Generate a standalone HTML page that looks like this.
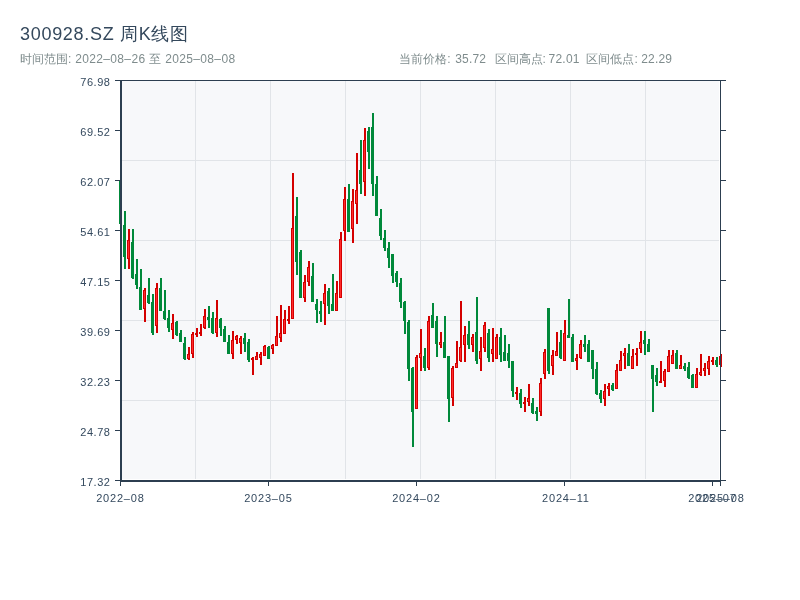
<!DOCTYPE html>
<html><head><meta charset="utf-8"><style>
html,body{margin:0;padding:0;background:#fff;}
body{width:800px;height:600px;overflow:hidden;position:relative;font-family:"Liberation Sans",sans-serif;}
.t{position:absolute;left:20px;top:22px;font-size:19px;color:#2c3e50;white-space:nowrap;line-height:1;}
.s{position:absolute;top:51px;font-size:12px;color:#7f8c8d;white-space:nowrap;line-height:1;}
svg{position:absolute;left:0;top:0;will-change:transform;}
</style></head><body>
<svg width="800" height="600" viewBox="0 0 800 600" shape-rendering="crispEdges">
<rect x="122" y="81" width="597" height="398" fill="#f7f8fa"/>
<rect x="195" y="81" width="1" height="398" fill="#e1e4e8"/><rect x="270" y="81" width="1" height="398" fill="#e1e4e8"/><rect x="345" y="81" width="1" height="398" fill="#e1e4e8"/><rect x="420" y="81" width="1" height="398" fill="#e1e4e8"/><rect x="495" y="81" width="1" height="398" fill="#e1e4e8"/><rect x="570" y="81" width="1" height="398" fill="#e1e4e8"/><rect x="645" y="81" width="1" height="398" fill="#e1e4e8"/><rect x="122" y="160" width="597" height="1" fill="#e1e4e8"/><rect x="122" y="240" width="597" height="1" fill="#e1e4e8"/><rect x="122" y="320" width="597" height="1" fill="#e1e4e8"/><rect x="122" y="400" width="597" height="1" fill="#e1e4e8"/><rect x="120" y="181" width="2" height="44" fill="#00893a"/><rect x="124" y="211" width="2" height="58" fill="#00893a"/><rect x="128" y="229" width="2" height="40" fill="#d40000"/><rect x="132" y="229" width="2" height="50" fill="#00893a"/><rect x="136" y="259" width="2" height="30" fill="#00893a"/><rect x="140" y="269" width="2" height="41" fill="#00893a"/><rect x="144" y="288" width="2" height="34" fill="#d40000"/><rect x="148" y="278" width="2" height="26" fill="#00893a"/><rect x="152" y="294" width="2" height="41" fill="#00893a"/><rect x="156" y="283" width="2" height="50" fill="#d40000"/><rect x="160" y="278" width="2" height="33" fill="#00893a"/><rect x="164" y="290" width="2" height="30" fill="#00893a"/><rect x="168" y="310" width="2" height="22" fill="#00893a"/><rect x="172" y="314" width="2" height="25" fill="#d40000"/><rect x="176" y="321" width="2" height="15" fill="#00893a"/><rect x="180" y="330" width="2" height="12" fill="#00893a"/><rect x="184" y="337" width="2" height="23" fill="#00893a"/><rect x="188" y="347" width="2" height="13" fill="#d40000"/><rect x="192" y="332" width="2" height="26" fill="#d40000"/><rect x="196" y="328" width="2" height="9" fill="#d40000"/><rect x="200" y="324" width="2" height="12" fill="#d40000"/><rect x="204" y="309" width="2" height="20" fill="#d40000"/><rect x="208" y="306" width="2" height="22" fill="#00893a"/><rect x="212" y="312" width="2" height="22" fill="#00893a"/><rect x="216" y="300" width="2" height="37" fill="#d40000"/><rect x="220" y="318" width="2" height="18" fill="#00893a"/><rect x="224" y="326" width="2" height="16" fill="#00893a"/><rect x="228" y="335" width="2" height="19" fill="#00893a"/><rect x="232" y="331" width="2" height="28" fill="#d40000"/><rect x="236" y="335" width="2" height="9" fill="#d40000"/><rect x="240" y="336" width="2" height="18" fill="#d40000"/><rect x="244" y="333" width="2" height="19" fill="#00893a"/><rect x="248" y="339" width="2" height="23" fill="#00893a"/><rect x="252" y="357" width="2" height="18" fill="#d40000"/><rect x="256" y="352" width="2" height="8" fill="#d40000"/><rect x="260" y="352" width="2" height="13" fill="#d40000"/><rect x="264" y="345" width="2" height="11" fill="#d40000"/><rect x="268" y="346" width="2" height="13" fill="#00893a"/><rect x="272" y="344" width="2" height="10" fill="#d40000"/><rect x="276" y="316" width="2" height="30" fill="#d40000"/><rect x="280" y="305" width="2" height="37" fill="#d40000"/><rect x="284" y="310" width="2" height="24" fill="#d40000"/><rect x="288" y="306" width="2" height="18" fill="#d40000"/><rect x="292" y="173" width="2" height="146" fill="#d40000"/><rect x="296" y="197" width="2" height="78" fill="#00893a"/><rect x="300" y="250" width="2" height="48" fill="#00893a"/><rect x="304" y="275" width="2" height="27" fill="#d40000"/><rect x="308" y="261" width="2" height="25" fill="#d40000"/><rect x="312" y="263" width="2" height="39" fill="#00893a"/><rect x="316" y="299" width="2" height="24" fill="#00893a"/><rect x="320" y="301" width="2" height="21" fill="#00893a"/><rect x="324" y="284" width="2" height="41" fill="#d40000"/><rect x="328" y="288" width="2" height="26" fill="#00893a"/><rect x="332" y="274" width="2" height="37" fill="#00893a"/><rect x="336" y="281" width="2" height="30" fill="#d40000"/><rect x="340" y="232" width="2" height="66" fill="#d40000"/><rect x="344" y="187" width="2" height="54" fill="#d40000"/><rect x="348" y="184" width="2" height="48" fill="#00893a"/><rect x="352" y="189" width="2" height="54" fill="#d40000"/><rect x="356" y="153" width="2" height="71" fill="#d40000"/><rect x="360" y="140" width="2" height="54" fill="#00893a"/><rect x="364" y="128" width="2" height="68" fill="#d40000"/><rect x="368" y="127" width="2" height="42" fill="#00893a"/><rect x="372" y="113" width="2" height="83" fill="#00893a"/><rect x="376" y="176" width="2" height="40" fill="#00893a"/><rect x="380" y="209" width="2" height="31" fill="#00893a"/><rect x="384" y="230" width="2" height="21" fill="#00893a"/><rect x="388" y="242" width="2" height="26" fill="#00893a"/><rect x="392" y="254" width="2" height="29" fill="#00893a"/><rect x="396" y="271" width="2" height="16" fill="#00893a"/><rect x="400" y="278" width="2" height="30" fill="#00893a"/><rect x="404" y="301" width="2" height="33" fill="#00893a"/><rect x="408" y="320" width="2" height="61" fill="#00893a"/><rect x="412" y="367" width="2" height="80" fill="#00893a"/><rect x="416" y="355" width="2" height="54" fill="#d40000"/><rect x="420" y="329" width="2" height="42" fill="#d40000"/><rect x="424" y="348" width="2" height="23" fill="#00893a"/><rect x="428" y="316" width="2" height="54" fill="#d40000"/><rect x="432" y="303" width="2" height="25" fill="#00893a"/><rect x="436" y="316" width="2" height="41" fill="#00893a"/><rect x="440" y="332" width="2" height="16" fill="#d40000"/><rect x="444" y="316" width="2" height="42" fill="#00893a"/><rect x="448" y="356" width="2" height="66" fill="#00893a"/><rect x="452" y="366" width="2" height="40" fill="#d40000"/><rect x="456" y="341" width="2" height="27" fill="#d40000"/><rect x="460" y="301" width="2" height="61" fill="#d40000"/><rect x="464" y="326" width="2" height="36" fill="#d40000"/><rect x="468" y="321" width="2" height="28" fill="#00893a"/><rect x="472" y="334" width="2" height="18" fill="#d40000"/><rect x="476" y="297" width="2" height="67" fill="#00893a"/><rect x="480" y="337" width="2" height="34" fill="#d40000"/><rect x="484" y="322" width="2" height="30" fill="#d40000"/><rect x="488" y="329" width="2" height="33" fill="#00893a"/><rect x="492" y="328" width="2" height="34" fill="#d40000"/><rect x="496" y="334" width="2" height="25" fill="#d40000"/><rect x="500" y="328" width="2" height="34" fill="#00893a"/><rect x="504" y="335" width="2" height="26" fill="#00893a"/><rect x="508" y="344" width="2" height="24" fill="#00893a"/><rect x="512" y="361" width="2" height="36" fill="#00893a"/><rect x="516" y="387" width="2" height="13" fill="#d40000"/><rect x="520" y="389" width="2" height="19" fill="#00893a"/><rect x="524" y="397" width="2" height="15" fill="#d40000"/><rect x="528" y="384" width="2" height="22" fill="#d40000"/><rect x="532" y="398" width="2" height="16" fill="#00893a"/><rect x="536" y="407" width="2" height="14" fill="#00893a"/><rect x="540" y="378" width="2" height="38" fill="#d40000"/><rect x="544" y="349" width="2" height="30" fill="#d40000"/><rect x="548" y="308" width="2" height="66" fill="#00893a"/><rect x="552" y="350" width="2" height="25" fill="#d40000"/><rect x="556" y="332" width="2" height="24" fill="#d40000"/><rect x="560" y="330" width="2" height="29" fill="#00893a"/><rect x="564" y="320" width="2" height="41" fill="#d40000"/><rect x="568" y="299" width="2" height="39" fill="#00893a"/><rect x="572" y="334" width="2" height="28" fill="#00893a"/><rect x="576" y="354" width="2" height="16" fill="#d40000"/><rect x="580" y="340" width="2" height="19" fill="#d40000"/><rect x="584" y="335" width="2" height="17" fill="#00893a"/><rect x="588" y="340" width="2" height="22" fill="#00893a"/><rect x="592" y="350" width="2" height="29" fill="#00893a"/><rect x="596" y="362" width="2" height="33" fill="#00893a"/><rect x="600" y="390" width="2" height="13" fill="#00893a"/><rect x="604" y="384" width="2" height="22" fill="#d40000"/><rect x="608" y="383" width="2" height="13" fill="#d40000"/><rect x="612" y="383" width="2" height="8" fill="#00893a"/><rect x="616" y="364" width="2" height="25" fill="#d40000"/><rect x="620" y="351" width="2" height="20" fill="#d40000"/><rect x="624" y="348" width="2" height="21" fill="#d40000"/><rect x="628" y="344" width="2" height="22" fill="#00893a"/><rect x="632" y="349" width="2" height="20" fill="#d40000"/><rect x="636" y="348" width="2" height="18" fill="#d40000"/><rect x="640" y="331" width="2" height="22" fill="#d40000"/><rect x="644" y="331" width="2" height="24" fill="#00893a"/><rect x="648" y="339" width="2" height="13" fill="#00893a"/><rect x="652" y="365" width="2" height="47" fill="#00893a"/><rect x="656" y="368" width="2" height="18" fill="#00893a"/><rect x="660" y="361" width="2" height="22" fill="#d40000"/><rect x="664" y="369" width="2" height="18" fill="#d40000"/><rect x="668" y="350" width="2" height="22" fill="#d40000"/><rect x="672" y="350" width="2" height="14" fill="#d40000"/><rect x="676" y="350" width="2" height="19" fill="#00893a"/><rect x="680" y="355" width="2" height="14" fill="#d40000"/><rect x="684" y="363" width="2" height="8" fill="#00893a"/><rect x="688" y="362" width="2" height="17" fill="#00893a"/><rect x="692" y="374" width="2" height="14" fill="#00893a"/><rect x="696" y="368" width="2" height="20" fill="#d40000"/><rect x="700" y="354" width="2" height="22" fill="#d40000"/><rect x="704" y="363" width="2" height="13" fill="#d40000"/><rect x="708" y="356" width="2" height="19" fill="#d40000"/><rect x="712" y="357" width="2" height="8" fill="#d40000"/><rect x="716" y="357" width="2" height="10" fill="#00893a"/><rect x="720" y="354" width="2" height="13" fill="#d40000"/><rect x="119" y="181" width="3" height="43" fill="#00893a"/><rect x="123" y="225" width="3" height="32" fill="#00893a"/><rect x="127" y="240" width="3" height="19" fill="#d40000"/><rect x="128" y="241" width="1" height="17" fill="#ff2b2b"/><rect x="131" y="242" width="3" height="36" fill="#00893a"/><rect x="135" y="274" width="3" height="11" fill="#00893a"/><rect x="139" y="287" width="3" height="23" fill="#00893a"/><rect x="143" y="290" width="3" height="19" fill="#d40000"/><rect x="144" y="291" width="1" height="17" fill="#ff2b2b"/><rect x="147" y="295" width="3" height="8" fill="#00893a"/><rect x="151" y="302" width="3" height="31" fill="#00893a"/><rect x="155" y="288" width="3" height="38" fill="#d40000"/><rect x="156" y="289" width="1" height="36" fill="#ff2b2b"/><rect x="159" y="288" width="3" height="23" fill="#00893a"/><rect x="163" y="311" width="3" height="8" fill="#00893a"/><rect x="167" y="318" width="3" height="10" fill="#00893a"/><rect x="171" y="323" width="3" height="7" fill="#d40000"/><rect x="172" y="324" width="1" height="5" fill="#ff2b2b"/><rect x="175" y="322" width="3" height="13" fill="#00893a"/><rect x="179" y="333" width="3" height="9" fill="#00893a"/><rect x="183" y="343" width="3" height="16" fill="#00893a"/><rect x="187" y="354" width="3" height="5" fill="#d40000"/><rect x="188" y="355" width="1" height="3" fill="#ff2b2b"/><rect x="191" y="334" width="3" height="20" fill="#d40000"/><rect x="192" y="335" width="1" height="18" fill="#ff2b2b"/><rect x="195" y="333" width="3" height="2" fill="#d40000"/><rect x="199" y="332" width="3" height="2" fill="#d40000"/><rect x="203" y="316" width="3" height="12" fill="#d40000"/><rect x="204" y="317" width="1" height="10" fill="#ff2b2b"/><rect x="207" y="317" width="3" height="3" fill="#00893a"/><rect x="211" y="318" width="3" height="15" fill="#00893a"/><rect x="215" y="318" width="3" height="15" fill="#d40000"/><rect x="216" y="319" width="1" height="13" fill="#ff2b2b"/><rect x="219" y="319" width="3" height="9" fill="#00893a"/><rect x="223" y="329" width="3" height="13" fill="#00893a"/><rect x="227" y="342" width="3" height="12" fill="#00893a"/><rect x="231" y="340" width="3" height="14" fill="#d40000"/><rect x="232" y="341" width="1" height="12" fill="#ff2b2b"/><rect x="235" y="336" width="3" height="4" fill="#d40000"/><rect x="236" y="337" width="1" height="2" fill="#ff2b2b"/><rect x="239" y="338" width="3" height="5" fill="#d40000"/><rect x="240" y="339" width="1" height="3" fill="#ff2b2b"/><rect x="243" y="338" width="3" height="6" fill="#00893a"/><rect x="247" y="342" width="3" height="18" fill="#00893a"/><rect x="251" y="358" width="3" height="2" fill="#d40000"/><rect x="255" y="356" width="3" height="4" fill="#d40000"/><rect x="256" y="357" width="1" height="2" fill="#ff2b2b"/><rect x="259" y="354" width="3" height="4" fill="#d40000"/><rect x="260" y="355" width="1" height="2" fill="#ff2b2b"/><rect x="263" y="346" width="3" height="10" fill="#d40000"/><rect x="264" y="347" width="1" height="8" fill="#ff2b2b"/><rect x="267" y="347" width="3" height="12" fill="#00893a"/><rect x="271" y="345" width="3" height="4" fill="#d40000"/><rect x="272" y="346" width="1" height="2" fill="#ff2b2b"/><rect x="275" y="336" width="3" height="10" fill="#d40000"/><rect x="276" y="337" width="1" height="8" fill="#ff2b2b"/><rect x="279" y="333" width="3" height="5" fill="#d40000"/><rect x="280" y="334" width="1" height="3" fill="#ff2b2b"/><rect x="283" y="319" width="3" height="15" fill="#d40000"/><rect x="284" y="320" width="1" height="13" fill="#ff2b2b"/><rect x="287" y="319" width="3" height="2" fill="#d40000"/><rect x="291" y="228" width="3" height="91" fill="#d40000"/><rect x="292" y="229" width="1" height="89" fill="#ff2b2b"/><rect x="295" y="216" width="3" height="46" fill="#00893a"/><rect x="299" y="252" width="3" height="46" fill="#00893a"/><rect x="303" y="282" width="3" height="16" fill="#d40000"/><rect x="304" y="283" width="1" height="14" fill="#ff2b2b"/><rect x="307" y="267" width="3" height="15" fill="#d40000"/><rect x="308" y="268" width="1" height="13" fill="#ff2b2b"/><rect x="311" y="276" width="3" height="26" fill="#00893a"/><rect x="315" y="304" width="3" height="6" fill="#00893a"/><rect x="319" y="311" width="3" height="3" fill="#00893a"/><rect x="323" y="293" width="3" height="11" fill="#d40000"/><rect x="324" y="294" width="1" height="9" fill="#ff2b2b"/><rect x="327" y="291" width="3" height="15" fill="#00893a"/><rect x="331" y="304" width="3" height="7" fill="#00893a"/><rect x="335" y="293" width="3" height="18" fill="#d40000"/><rect x="336" y="294" width="1" height="16" fill="#ff2b2b"/><rect x="339" y="239" width="3" height="59" fill="#d40000"/><rect x="340" y="240" width="1" height="57" fill="#ff2b2b"/><rect x="343" y="199" width="3" height="32" fill="#d40000"/><rect x="344" y="200" width="1" height="30" fill="#ff2b2b"/><rect x="347" y="199" width="3" height="33" fill="#00893a"/><rect x="351" y="201" width="3" height="28" fill="#d40000"/><rect x="352" y="202" width="1" height="26" fill="#ff2b2b"/><rect x="355" y="190" width="3" height="14" fill="#d40000"/><rect x="356" y="191" width="1" height="12" fill="#ff2b2b"/><rect x="359" y="170" width="3" height="14" fill="#00893a"/><rect x="363" y="140" width="3" height="42" fill="#d40000"/><rect x="364" y="141" width="1" height="40" fill="#ff2b2b"/><rect x="367" y="131" width="3" height="21" fill="#00893a"/><rect x="371" y="127" width="3" height="57" fill="#00893a"/><rect x="375" y="184" width="3" height="32" fill="#00893a"/><rect x="379" y="218" width="3" height="18" fill="#00893a"/><rect x="383" y="238" width="3" height="10" fill="#00893a"/><rect x="387" y="248" width="3" height="10" fill="#00893a"/><rect x="391" y="254" width="3" height="22" fill="#00893a"/><rect x="395" y="273" width="3" height="9" fill="#00893a"/><rect x="399" y="283" width="3" height="19" fill="#00893a"/><rect x="403" y="302" width="3" height="19" fill="#00893a"/><rect x="407" y="322" width="3" height="47" fill="#00893a"/><rect x="411" y="368" width="3" height="44" fill="#00893a"/><rect x="415" y="357" width="3" height="52" fill="#d40000"/><rect x="416" y="358" width="1" height="50" fill="#ff2b2b"/><rect x="419" y="353" width="3" height="5" fill="#d40000"/><rect x="420" y="354" width="1" height="3" fill="#ff2b2b"/><rect x="423" y="356" width="3" height="12" fill="#00893a"/><rect x="427" y="321" width="3" height="47" fill="#d40000"/><rect x="428" y="322" width="1" height="45" fill="#ff2b2b"/><rect x="431" y="315" width="3" height="13" fill="#00893a"/><rect x="435" y="321" width="3" height="23" fill="#00893a"/><rect x="439" y="342" width="3" height="3" fill="#d40000"/><rect x="440" y="343" width="1" height="1" fill="#ff2b2b"/><rect x="443" y="342" width="3" height="16" fill="#00893a"/><rect x="447" y="356" width="3" height="43" fill="#00893a"/><rect x="451" y="368" width="3" height="30" fill="#d40000"/><rect x="452" y="369" width="1" height="28" fill="#ff2b2b"/><rect x="455" y="363" width="3" height="5" fill="#d40000"/><rect x="456" y="364" width="1" height="3" fill="#ff2b2b"/><rect x="459" y="347" width="3" height="14" fill="#d40000"/><rect x="460" y="348" width="1" height="12" fill="#ff2b2b"/><rect x="463" y="335" width="3" height="10" fill="#d40000"/><rect x="464" y="336" width="1" height="8" fill="#ff2b2b"/><rect x="467" y="334" width="3" height="11" fill="#00893a"/><rect x="471" y="337" width="3" height="8" fill="#d40000"/><rect x="472" y="338" width="1" height="6" fill="#ff2b2b"/><rect x="475" y="332" width="3" height="29" fill="#00893a"/><rect x="479" y="351" width="3" height="8" fill="#d40000"/><rect x="480" y="352" width="1" height="6" fill="#ff2b2b"/><rect x="483" y="325" width="3" height="23" fill="#d40000"/><rect x="484" y="326" width="1" height="21" fill="#ff2b2b"/><rect x="487" y="333" width="3" height="25" fill="#00893a"/><rect x="491" y="349" width="3" height="5" fill="#d40000"/><rect x="492" y="350" width="1" height="3" fill="#ff2b2b"/><rect x="495" y="337" width="3" height="22" fill="#d40000"/><rect x="496" y="338" width="1" height="20" fill="#ff2b2b"/><rect x="499" y="337" width="3" height="18" fill="#00893a"/><rect x="503" y="352" width="3" height="9" fill="#00893a"/><rect x="507" y="353" width="3" height="8" fill="#00893a"/><rect x="511" y="361" width="3" height="30" fill="#00893a"/><rect x="515" y="392" width="3" height="2" fill="#d40000"/><rect x="519" y="393" width="3" height="11" fill="#00893a"/><rect x="523" y="402" width="3" height="2" fill="#d40000"/><rect x="527" y="398" width="3" height="4" fill="#d40000"/><rect x="528" y="399" width="1" height="2" fill="#ff2b2b"/><rect x="531" y="403" width="3" height="10" fill="#00893a"/><rect x="535" y="411" width="3" height="3" fill="#00893a"/><rect x="539" y="383" width="3" height="29" fill="#d40000"/><rect x="540" y="384" width="1" height="27" fill="#ff2b2b"/><rect x="543" y="352" width="3" height="22" fill="#d40000"/><rect x="544" y="353" width="1" height="20" fill="#ff2b2b"/><rect x="547" y="308" width="3" height="63" fill="#00893a"/><rect x="551" y="355" width="3" height="11" fill="#d40000"/><rect x="552" y="356" width="1" height="9" fill="#ff2b2b"/><rect x="555" y="351" width="3" height="5" fill="#d40000"/><rect x="556" y="352" width="1" height="3" fill="#ff2b2b"/><rect x="559" y="342" width="3" height="16" fill="#00893a"/><rect x="563" y="333" width="3" height="28" fill="#d40000"/><rect x="564" y="334" width="1" height="26" fill="#ff2b2b"/><rect x="567" y="335" width="3" height="3" fill="#00893a"/><rect x="571" y="337" width="3" height="25" fill="#00893a"/><rect x="575" y="358" width="3" height="3" fill="#d40000"/><rect x="576" y="359" width="1" height="1" fill="#ff2b2b"/><rect x="579" y="344" width="3" height="14" fill="#d40000"/><rect x="580" y="345" width="1" height="12" fill="#ff2b2b"/><rect x="583" y="344" width="3" height="3" fill="#00893a"/><rect x="587" y="344" width="3" height="18" fill="#00893a"/><rect x="591" y="350" width="3" height="19" fill="#00893a"/><rect x="595" y="369" width="3" height="25" fill="#00893a"/><rect x="599" y="393" width="3" height="6" fill="#00893a"/><rect x="603" y="391" width="3" height="8" fill="#d40000"/><rect x="604" y="392" width="1" height="6" fill="#ff2b2b"/><rect x="607" y="386" width="3" height="3" fill="#d40000"/><rect x="608" y="387" width="1" height="1" fill="#ff2b2b"/><rect x="611" y="385" width="3" height="5" fill="#00893a"/><rect x="615" y="370" width="3" height="19" fill="#d40000"/><rect x="616" y="371" width="1" height="17" fill="#ff2b2b"/><rect x="619" y="360" width="3" height="11" fill="#d40000"/><rect x="620" y="361" width="1" height="9" fill="#ff2b2b"/><rect x="623" y="353" width="3" height="3" fill="#d40000"/><rect x="624" y="354" width="1" height="1" fill="#ff2b2b"/><rect x="627" y="353" width="3" height="13" fill="#00893a"/><rect x="631" y="356" width="3" height="13" fill="#d40000"/><rect x="632" y="357" width="1" height="11" fill="#ff2b2b"/><rect x="635" y="353" width="3" height="2" fill="#d40000"/><rect x="639" y="342" width="3" height="7" fill="#d40000"/><rect x="640" y="343" width="1" height="5" fill="#ff2b2b"/><rect x="643" y="340" width="3" height="4" fill="#00893a"/><rect x="647" y="344" width="3" height="8" fill="#00893a"/><rect x="651" y="365" width="3" height="14" fill="#00893a"/><rect x="655" y="375" width="3" height="7" fill="#00893a"/><rect x="659" y="381" width="3" height="2" fill="#d40000"/><rect x="663" y="371" width="3" height="10" fill="#d40000"/><rect x="664" y="372" width="1" height="8" fill="#ff2b2b"/><rect x="667" y="356" width="3" height="16" fill="#d40000"/><rect x="668" y="357" width="1" height="14" fill="#ff2b2b"/><rect x="671" y="355" width="3" height="9" fill="#d40000"/><rect x="672" y="356" width="1" height="7" fill="#ff2b2b"/><rect x="675" y="353" width="3" height="16" fill="#00893a"/><rect x="679" y="365" width="3" height="4" fill="#d40000"/><rect x="680" y="366" width="1" height="2" fill="#ff2b2b"/><rect x="683" y="366" width="3" height="3" fill="#00893a"/><rect x="687" y="367" width="3" height="11" fill="#00893a"/><rect x="691" y="375" width="3" height="13" fill="#00893a"/><rect x="695" y="374" width="3" height="14" fill="#d40000"/><rect x="696" y="375" width="1" height="12" fill="#ff2b2b"/><rect x="699" y="372" width="3" height="3" fill="#d40000"/><rect x="700" y="373" width="1" height="1" fill="#ff2b2b"/><rect x="703" y="368" width="3" height="3" fill="#d40000"/><rect x="704" y="369" width="1" height="1" fill="#ff2b2b"/><rect x="707" y="361" width="3" height="8" fill="#d40000"/><rect x="708" y="362" width="1" height="6" fill="#ff2b2b"/><rect x="711" y="360" width="3" height="2" fill="#d40000"/><rect x="715" y="360" width="3" height="5" fill="#00893a"/><rect x="719" y="356" width="3" height="9" fill="#d40000"/><rect x="720" y="357" width="1" height="7" fill="#ff2b2b"/><rect x="115" y="80" width="611" height="1" fill="#2c3e50"/><rect x="120" y="80" width="2" height="402" fill="#2c3e50"/><rect x="120" y="480" width="601" height="2" fill="#2c3e50"/><rect x="720" y="80" width="1" height="406" fill="#2c3e50"/><rect x="115" y="80" width="5" height="1" fill="#2c3e50"/><rect x="721" y="80" width="5" height="1" fill="#2c3e50"/><rect x="115" y="130" width="5" height="1" fill="#2c3e50"/><rect x="721" y="130" width="5" height="1" fill="#2c3e50"/><rect x="115" y="180" width="5" height="1" fill="#2c3e50"/><rect x="721" y="180" width="5" height="1" fill="#2c3e50"/><rect x="115" y="230" width="5" height="1" fill="#2c3e50"/><rect x="721" y="230" width="5" height="1" fill="#2c3e50"/><rect x="115" y="280" width="5" height="1" fill="#2c3e50"/><rect x="721" y="280" width="5" height="1" fill="#2c3e50"/><rect x="115" y="330" width="5" height="1" fill="#2c3e50"/><rect x="721" y="330" width="5" height="1" fill="#2c3e50"/><rect x="115" y="380" width="5" height="1" fill="#2c3e50"/><rect x="721" y="380" width="5" height="1" fill="#2c3e50"/><rect x="115" y="430" width="5" height="1" fill="#2c3e50"/><rect x="721" y="430" width="5" height="1" fill="#2c3e50"/><rect x="115" y="480" width="5" height="1" fill="#2c3e50"/><rect x="721" y="480" width="5" height="1" fill="#2c3e50"/><rect x="120" y="482" width="1" height="4" fill="#2c3e50"/><rect x="268" y="482" width="1" height="4" fill="#2c3e50"/><rect x="416" y="482" width="1" height="4" fill="#2c3e50"/><rect x="564" y="482" width="1" height="4" fill="#2c3e50"/><rect x="712" y="482" width="1" height="4" fill="#2c3e50"/><rect x="720" y="482" width="1" height="4" fill="#2c3e50"/><g font-family="Liberation Sans, sans-serif" font-size="11" fill="#34495e"><text x="110.55" y="86" text-anchor="end" letter-spacing="0.55">76.98</text><text x="110.55" y="136" text-anchor="end" letter-spacing="0.55">69.52</text><text x="110.55" y="186" text-anchor="end" letter-spacing="0.55">62.07</text><text x="110.55" y="236" text-anchor="end" letter-spacing="0.55">54.61</text><text x="110.55" y="286" text-anchor="end" letter-spacing="0.55">47.15</text><text x="110.55" y="336" text-anchor="end" letter-spacing="0.55">39.69</text><text x="110.55" y="386" text-anchor="end" letter-spacing="0.55">32.23</text><text x="110.55" y="436" text-anchor="end" letter-spacing="0.55">24.78</text><text x="110.55" y="486" text-anchor="end" letter-spacing="0.55">17.32</text><text x="120.4" y="502" text-anchor="middle" letter-spacing="0.8">2022–08</text><text x="268.4" y="502" text-anchor="middle" letter-spacing="0.8">2023–05</text><text x="416.4" y="502" text-anchor="middle" letter-spacing="0.8">2024–02</text><text x="565.9" y="502" text-anchor="middle" letter-spacing="0.8">2024–11</text><text x="712.4" y="502" text-anchor="middle" letter-spacing="0.8">2025–07</text><text x="720.4" y="502" text-anchor="middle" letter-spacing="0.8">2025–08</text></g><text x="20" y="40" font-family="Liberation Sans, sans-serif" font-size="18" letter-spacing="0.7" fill="#34485c">300928.SZ 周K线图</text><g font-family="Liberation Sans, sans-serif" font-size="12" fill="#7f8c8d"><text x="20" y="63" letter-spacing="0">时间范围:</text><text x="75.2" y="63" letter-spacing="0.35">2022–08–26</text><text x="149" y="63" letter-spacing="0">至</text><text x="165.2" y="63" letter-spacing="0.35">2025–08–08</text><text x="399.3" y="63" letter-spacing="0">当前价格:</text><text x="455.2" y="63" letter-spacing="0.2">35.72</text><text x="494.5" y="63" letter-spacing="0">区间高点:</text><text x="548.6" y="63" letter-spacing="0.2">72.01</text><text x="586.4" y="63" letter-spacing="0">区间低点:</text><text x="641.2" y="63" letter-spacing="0.2">22.29</text></g>
</svg>
</body></html>
